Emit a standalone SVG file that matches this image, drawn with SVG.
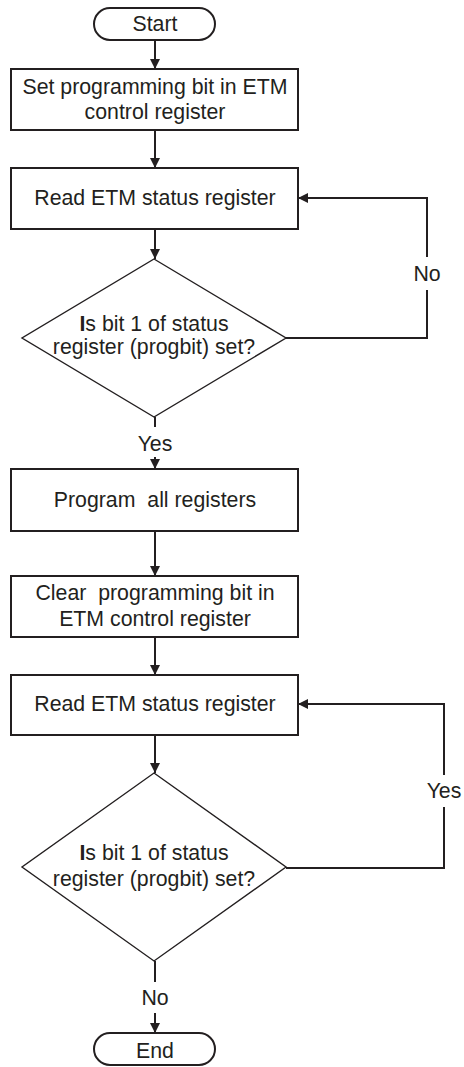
<svg xmlns="http://www.w3.org/2000/svg" width="464" height="1067" viewBox="0 0 464 1067">
<defs>
<style>
.box{fill:#fff;stroke:#231f20;stroke-width:2}
.dia{fill:#fff;stroke:#231f20;stroke-width:1.4}
.t{font-family:"Liberation Sans",Arial,sans-serif;font-size:21.3px;fill:#231f20;text-anchor:middle;white-space:pre}
.c{fill:none;stroke:#231f20;stroke-width:2}
</style>
<marker id="ah" viewBox="0 0 10 10" refX="10" refY="5" markerWidth="10" markerHeight="10" markerUnits="userSpaceOnUse" orient="auto">
<path d="M0,0 L10,5 L0,10 z" fill="#231f20"/>
</marker>
</defs>
<rect width="464" height="1067" fill="#fff"/>
<g id="connectors">
<line class="c" x1="155" y1="40" x2="155" y2="69" marker-end="url(#ah)"/>
<line class="c" x1="155" y1="130" x2="155" y2="168" marker-end="url(#ah)"/>
<line class="c" x1="155" y1="229" x2="155" y2="259" marker-end="url(#ah)"/>
<polyline class="c" points="286,338 427,338 427,290"/>
<polyline class="c" points="427,257 427,198 298,198" marker-end="url(#ah)"/>
<line class="c" x1="155" y1="417" x2="155" y2="427"/>
<line class="c" x1="155" y1="457" x2="155" y2="469" marker-end="url(#ah)"/>
<line class="c" x1="155" y1="531" x2="155" y2="576" marker-end="url(#ah)"/>
<line class="c" x1="155" y1="637" x2="155" y2="675" marker-end="url(#ah)"/>
<line class="c" x1="155" y1="735" x2="155" y2="773" marker-end="url(#ah)"/>
<polyline class="c" points="286,868 444,868 444,807"/>
<polyline class="c" points="444,775 444,704 298,704" marker-end="url(#ah)"/>
<line class="c" x1="155" y1="961" x2="155" y2="982"/>
<line class="c" x1="155" y1="1013" x2="155" y2="1033" marker-end="url(#ah)"/>
<text class="t" x="427" y="281">No</text>
<text class="t" x="155" y="451">Yes</text>
<text class="t" x="444" y="798">Yes</text>
<text class="t" x="155" y="1005">No</text>
</g>
<g id="start">
<rect class="box" x="94" y="8" width="121" height="32" rx="16" ry="16" stroke-width="1.4"/>
<text class="t" x="155" y="31">Start</text>
</g>
<g id="set-bit">
<rect class="box" x="11" y="69" width="287" height="61"/>
<text class="t" x="155" y="94">Set programming bit in ETM</text>
<text class="t" x="155" y="119">control register</text>
</g>
<g id="read1">
<rect class="box" x="11" y="168" width="287" height="61"/>
<text class="t" x="155" y="205">Read ETM status register</text>
</g>
<g id="decision1">
<polygon class="dia" points="154,259 286,338 154,417 22,338"/>
<text class="t" x="154" y="331"><tspan font-weight="bold">I</tspan>s bit 1 of status</text>
<text class="t" x="154" y="354">register (progbit) set?</text>
</g>
<g id="program">
<rect class="box" x="11" y="469" width="287" height="62"/>
<text class="t" x="155" y="507" xml:space="preserve">Program  all registers</text>
</g>
<g id="clear-bit">
<rect class="box" x="11" y="576" width="287" height="61"/>
<text class="t" x="155" y="600" xml:space="preserve">Clear  programming bit in</text>
<text class="t" x="155" y="626">ETM control register</text>
</g>
<g id="read2">
<rect class="box" x="11" y="675" width="287" height="60"/>
<text class="t" x="155" y="711">Read ETM status register</text>
</g>
<g id="decision2">
<polygon class="dia" points="154,773 286,867 154,961 22,867"/>
<text class="t" x="154" y="860"><tspan font-weight="bold">I</tspan>s bit 1 of status</text>
<text class="t" x="154" y="886">register (progbit) set?</text>
</g>
<g id="end">
<rect class="box" x="94" y="1033" width="121" height="32" rx="16" ry="16" stroke-width="1.4"/>
<text class="t" x="155" y="1058">End</text>
</g>
</svg>
